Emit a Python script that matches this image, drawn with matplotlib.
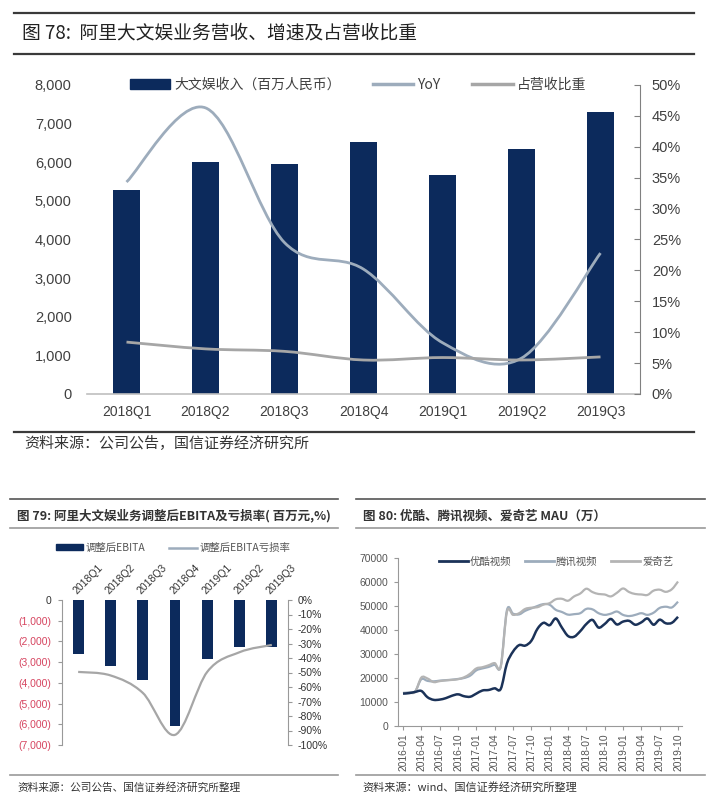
import numpy as np
import matplotlib
matplotlib.use("Agg")
import matplotlib.pyplot as plt
from matplotlib.path import Path
from matplotlib.patches import PathPatch, Patch
from matplotlib.lines import Line2D

plt.rcParams['font.family'] = ['Liberation Sans', 'Noto Sans CJK SC', 'DejaVu Sans']
plt.rcParams['axes.unicode_minus'] = False

# ---- data: chart 78 ----
quarters = ["2018Q1", "2018Q2", "2018Q3", "2018Q4", "2019Q1", "2019Q2", "2019Q3"]
dwy_revenue = [5270, 6000, 5950, 6520, 5680, 6340, 7300]
dwy_yoy = [34.3, 46.3, 24.5, 20.2, 8.3, 5.8, 22.8]
dwy_share = [8.4, 7.3, 6.9, 5.5, 5.9, 5.5, 6.0]

# ---- data: chart 79 ----
ebita = [-2620, -3170, -3850, -6070, -2850, -2270, -2260]
ebita_loss_rate = [-49.6, -52.0, -64.0, -93.0, -49.5, -36.0, -31.0]

# ---- data: chart 80 (monthly 2016-01 .. 2019-10) ----
youku = [13500, 13700, 14200, 14600, 12000, 10900, 11000, 11600, 12600, 13200,
         12400, 12200, 13500, 14800, 15000, 15700, 15500, 26000, 31000, 33700,
         33500, 35500, 40500, 43000, 42000, 44800, 41000, 37500, 37200, 39500,
         42500, 44200, 41000, 42500, 44600, 42300, 43500, 43800, 42200, 43200,
         44800, 42200, 44300, 42800, 43000, 45500]
tencent = [13800, 14000, 14500, 19500, 18800, 18600, 18900, 19100, 19300, 19600,
           20000, 21000, 23200, 24000, 24600, 25500, 25000, 48200, 46800, 46500,
           48000, 49000, 50000, 50800, 50500, 48400, 47500, 46400, 46600, 47000,
           48800, 48600, 47000, 46300, 46800, 47700, 46300, 45800, 46300, 47000,
           46300, 47200, 49200, 49700, 49400, 51800]
iqiyi = [13600, 13800, 14300, 20200, 19800, 18300, 18700, 19000, 19200, 19500,
         20300, 21800, 24000, 24500, 25300, 26200, 24800, 47500, 46300, 47000,
         48800, 49300, 49500, 50600, 51200, 52800, 53000, 52200, 54000, 55200,
         57200, 55800, 55000, 54800, 54000, 55500, 57300, 55800, 55000, 54800,
         54600, 56400, 56800, 55900, 57000, 60200]

NAVY = '#0C2A5C'
YOY_C = '#9DACBC'
SHARE_C = '#A6A6A6'
TXT = '#404040'
CJK = ['Noto Sans CJK SC', 'DejaVu Sans']

W, H = 716, 811
fig = plt.figure(figsize=(W / 100, H / 100), dpi=100)


def fx(px):
    return px / W


def fy(py):
    return 1 - py / H


def hline(x0, x1, y, color, lw):
    fig.add_artist(Line2D([fx(x0), fx(x1)], [fy(y), fy(y)], color=color, lw=lw,
                          transform=fig.transFigure))


def smooth(ax, x, y, **kw):
    # Excel-style smoothed line (Catmull-Rom as cubic Bezier)
    pts = np.column_stack([x, y]).astype(float)
    n = len(pts)
    verts, codes = [pts[0]], [Path.MOVETO]
    for i in range(n - 1):
        p0 = pts[i - 1] if i > 0 else pts[i]
        p1, p2 = pts[i], pts[i + 1]
        p3 = pts[i + 2] if i + 2 < n else pts[i + 1]
        verts += [p1 + (p2 - p0) / 6, p2 - (p3 - p1) / 6, p2]
        codes += [Path.CURVE4] * 3
    ax.add_patch(PathPatch(Path(verts, codes), fill=False, capstyle='butt', **kw))


# ================= chart 78 =================
hline(14, 694, 13, '#3a3a3a', 1.6)
hline(14, 694, 54, '#3a3a3a', 1.6)
fig.text(fx(22), fy(33), "图 78:  阿里大文娱业务营收、增速及占营收比重", fontsize=13.5,
         family=CJK, va='center', ha='left', color='#222222')

ax = fig.add_axes([fx(87), fy(394), fx(640) - fx(87), fy(85) - fy(394)])
x = np.arange(len(quarters))
ax.bar(x, dwy_revenue, width=0.33, color=NAVY, zorder=2)
ax.set_xlim(-0.5, 6.5)
ax.set_ylim(0, 8000)
ax.set_yticks(range(0, 8001, 1000))
ax.set_yticklabels([f"{v:,}" for v in range(0, 8001, 1000)])
ax.set_xticks(x)
ax.set_xticklabels(quarters)
ax.tick_params(axis='y', length=0, pad=11, labelsize=10.5, labelcolor=TXT)
ax.tick_params(axis='x', length=0, pad=8, labelsize=10, labelcolor=TXT)
for s in ['top', 'left', 'right']:
    ax.spines[s].set_visible(False)
ax.spines['bottom'].set_color('#BFBFBF')
ax.spines['bottom'].set_linewidth(1.2)

ax2 = ax.twinx()
ax2.set_ylim(0, 50)
ax2.set_yticks(range(0, 51, 5))
ax2.set_yticklabels([f"{v}%" for v in range(0, 51, 5)])
ax2.tick_params(axis='y', direction='in', length=4, color='#808080', pad=8.5,
                labelsize=10.5, labelcolor=TXT)
for s in ['top', 'left', 'bottom']:
    ax2.spines[s].set_visible(False)
ax2.spines['right'].set_color('#808080')
smooth(ax2, x, dwy_yoy, edgecolor=YOY_C, lw=2.0, zorder=3)
smooth(ax2, x, dwy_share, edgecolor=SHARE_C, lw=2.0, zorder=3)

handles = [Patch(color=NAVY), Line2D([], [], color=YOY_C, lw=2.5),
           Line2D([], [], color=SHARE_C, lw=2.5)]
ax2.legend(handles, ["大文娱收入（百万人民币）", "YoY", "占营收比重"], ncol=3,
           loc='center', bbox_to_anchor=(fx(358), fy(85)), bbox_transform=fig.transFigure,
           frameon=False, handlelength=2.9, handletextpad=0.3,
           columnspacing=2.3, labelcolor=TXT, prop={'family': CJK, 'size': 10})

hline(14, 694, 432, '#3a3a3a', 1.6)
fig.text(fx(24), fy(444), "资料来源：公司公告，国信证券经济研究所", fontsize=10.8,
         family=CJK, va='center', ha='left', color='#333333')

# ================= chart 79 =================
hline(10, 338, 499, '#555555', 1.2)
hline(10, 338, 528, '#999999', 1.2)
fig.text(fx(17), fy(516), "图 79: 阿里大文娱业务调整后EBITA及亏损率( 百万元,%)", fontsize=9,
         family=CJK, weight='bold', va='center', ha='left', color='#333333')

bx = fig.add_axes([fx(62), fy(745), fx(288) - fx(62), fy(600) - fy(745)])
bx.bar(x, ebita, width=0.34, color=NAVY, zorder=2)
bx.set_xlim(-0.5, 6.5)
bx.set_ylim(-7000, 0)
bx.set_yticks(range(-7000, 1, 1000))
bx.set_yticklabels([f"({-v:,})" if v < 0 else "0" for v in range(-7000, 1, 1000)])
for lab in bx.get_yticklabels():
    lab.set_color('#D64560' if lab.get_text() != "0" else '#333333')
bx.tick_params(axis='y', direction='out', length=3, color='#999999', pad=5, labelsize=7.5)
bx.xaxis.tick_top()
bx.set_xticks(x)
bx.set_xticklabels(quarters, rotation=45, ha='left', va='bottom', rotation_mode='anchor')
bx.tick_params(axis='x', length=0, pad=3, labelsize=7.5, labelcolor='#333333')
for s in ['top', 'bottom', 'right']:
    bx.spines[s].set_visible(False)
bx.spines['left'].set_color('#999999')

bx2 = bx.twinx()
bx2.set_ylim(-100, 0)
bx2.set_yticks(range(-100, 1, 10))
bx2.set_yticklabels([f"{v}%" for v in range(-100, 1, 10)])
bx2.tick_params(axis='y', direction='out', length=3, color='#999999', pad=4,
                labelsize=7.5, labelcolor='#333333')
for s in ['top', 'bottom', 'left']:
    bx2.spines[s].set_visible(False)
bx2.spines['right'].set_color('#999999')
smooth(bx2, x, ebita_loss_rate, edgecolor=SHARE_C, lw=1.6, zorder=3)

handles = [Patch(color=NAVY), Line2D([], [], color=YOY_C, lw=1.8)]
bx2.legend(handles, ["调整后EBITA", "调整后EBITA亏损率"], ncol=2, loc='center',
           bbox_to_anchor=(fx(173), fy(548)), bbox_transform=fig.transFigure,
           frameon=False, handlelength=2.6, handleheight=0.5, handletextpad=0.3,
           columnspacing=2.3, labelcolor='#555555', prop={'family': CJK, 'size': 7.5})

hline(10, 338, 775, '#999999', 1.2)
fig.text(fx(17), fy(787), "资料来源：公司公告、国信证券经济研究所整理", fontsize=7.7,
         family=CJK, va='center', ha='left', color='#333333')

# ================= chart 80 =================
hline(356, 705, 499, '#555555', 1.2)
hline(356, 705, 528, '#999999', 1.2)
fig.text(fx(363), fy(516), "图 80: 优酷、腾讯视频、爱奇艺 MAU（万）", fontsize=9,
         family=CJK, weight='bold', va='center', ha='left', color='#333333')

cx = fig.add_axes([fx(398), fy(726), fx(682) - fx(398), fy(558) - fy(726)])
months = np.arange(len(youku))
smooth(cx, months, tencent, edgecolor=YOY_C, lw=1.6, zorder=3)
smooth(cx, months, iqiyi, edgecolor='#B4B4B4', lw=1.6, zorder=3)
smooth(cx, months, youku, edgecolor='#1B3258', lw=1.8, zorder=4)
cx.set_xlim(-0.82, 45.65)
cx.set_ylim(0, 70000)
cx.set_yticks(range(0, 70001, 10000))
cx.tick_params(axis='y', direction='out', length=3, color='#999999', pad=4,
               labelsize=7.5, labelcolor='#555555')
tick_m = list(range(0, 46, 3))
cx.set_xticks(tick_m)
cx.set_xticklabels([f"{2016 + m // 12}-{m % 12 + 1:02d}" for m in tick_m], rotation=90)
cx.tick_params(axis='x', direction='out', length=3, color='#999999', pad=2,
               labelsize=7.4, labelcolor='#555555')
for s in ['top', 'right']:
    cx.spines[s].set_visible(False)
cx.spines['left'].set_color('#999999')
cx.spines['bottom'].set_color('#999999')

handles = [Line2D([], [], color='#1B3258', lw=2), Line2D([], [], color=YOY_C, lw=2),
           Line2D([], [], color='#B4B4B4', lw=2)]
cx.legend(handles, ["优酷视频", "腾讯视频", "爱奇艺"], ncol=3, loc='center',
          bbox_to_anchor=(fx(556), fy(562)), bbox_transform=fig.transFigure,
          frameon=False, handlelength=2.8, handletextpad=0.2, columnspacing=1.3,
          labelcolor='#555555', prop={'family': CJK, 'size': 7.5})

hline(356, 705, 775, '#999999', 1.2)
fig.text(fx(362), fy(787), "资料来源：wind、国信证券经济研究所整理", fontsize=8,
         family=CJK, va='center', ha='left', color='#333333')

fig.savefig("out.png", dpi=100, facecolor='white')
